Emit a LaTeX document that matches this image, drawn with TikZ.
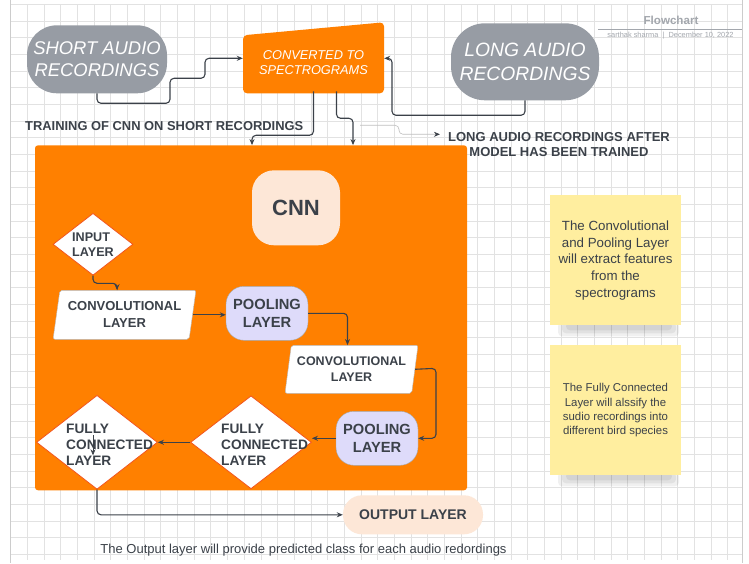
\documentclass[tikz,border=0pt]{standalone}
\usepackage{fontspec}
\setmainfont{Liberation Sans}
\usetikzlibrary{shapes.geometric,arrows.meta}
\definecolor{ink}{HTML}{3B4149}
\definecolor{lucorange}{HTML}{FF8000}
\definecolor{pillgray}{HTML}{979CA4}
\definecolor{peach}{HTML}{FDE7D7}
\definecolor{lavender}{HTML}{DEDBFA}
\definecolor{sticky}{HTML}{FFEE9F}
\definecolor{gridgray}{HTML}{E2E2E2}
\definecolor{titlegray}{HTML}{A3A7AD}
\definecolor{diamondred}{HTML}{F2541B}
\begin{document}
\begin{tikzpicture}[x=1pt, y=-1pt,
  every node/.style={text=ink, inner sep=0pt},
  recbox/.style={fill=pillgray, rounded corners=30, minimum width=140, minimum height=68,
    align=center, text=white, font=\itshape\fontsize{18.4}{22}\selectfont},
  lbl/.style={font=\bfseries\fontsize{13}{15}\selectfont},
  convlayer/.style={trapezium, trapezium left angle=77, trapezium right angle=103,
    trapezium stretches=true, draw=gray!55, fill=white, rounded corners=2,
    align=center, font=\bfseries\fontsize{13}{17}\selectfont},
  poolbox/.style={fill=lavender, draw=gray!70, rounded corners=18, minimum width=82,
    minimum height=54, align=center, font=\bfseries\fontsize{14.7}{18}\selectfont},
  layerdiamond/.style={diamond, draw=diamondred, fill=white, line width=0.8},
  note/.style={fill=sticky, minimum width=131, minimum height=130, align=center},
  flow/.style={draw=ink, line width=1.1, rounded corners=4, -{Stealth[length=6,width=5]}},
  thinflow/.style={draw=gray!50, line width=0.6, rounded corners=4,
    -{Stealth[length=6,width=5,color=ink]}}]

% canvas
\fill[white] (0,0) rectangle (749,563);
\foreach \i in {0,...,43}
  \draw[gridgray, line width=0.5] (10.7+16.67*\i,4) -- (10.7+16.67*\i,560);
\foreach \j in {0,...,33}
  \draw[gridgray, line width=0.5] (10,4+16.67*\j) -- (742,4+16.67*\j);
\draw[gray!40, line width=0.6] (10,0) -- (10,563);
\draw[gray!40, line width=0.6] (742,0) -- (742,563);

% header
\node[font=\bfseries\fontsize{11.6}{13}\selectfont, text=titlegray] (title) at (671,20) {Flowchart};
\draw[titlegray, line width=0.6] (598,29) -- (742,29);
\node[font=\fontsize{7.4}{9}\selectfont, text=titlegray] (author) at (670.5,35) {sarthak sharma \ | \ December 10, 2022};

% inputs
\node[recbox] (short) at (97,59) {SHORT AUDIO\\RECORDINGS};
\node[recbox, minimum width=148, minimum height=77, rounded corners=34,
  font=\itshape\fontsize{19.3}{24}\selectfont] (long) at (525,61.5) {LONG AUDIO\\RECORDINGS};
\fill[lucorange, rounded corners=4] (243,35) -- (384,22) -- (384,93) -- (243,93) -- cycle;
\node[text=white, font=\itshape\fontsize{12.8}{15}\selectfont, align=center,
  minimum width=141, minimum height=58] (conv) at (313.5,62) {CONVERTED TO\\SPECTROGRAMS};

\node[lbl, anchor=west, font=\bfseries\fontsize{12.9}{15}\selectfont] (traincap) at (25,126) {TRAINING OF CNN ON SHORT RECORDINGS};
\node[lbl, align=center] (aftercap) at (559,144) {LONG AUDIO RECORDINGS AFTER\\MODEL HAS BEEN TRAINED};

% model
\node[fill=lucorange, rounded corners=3, minimum width=432, minimum height=345] (model) at (251,317.5) {};
\node[fill=peach, rounded corners=22, minimum width=88, minimum height=75,
  font=\bfseries\fontsize{22}{24}\selectfont] (cnn) at (296,207.5) {CNN};

\node[layerdiamond, minimum width=80, minimum height=62] (input) at (93,244) {};
\node[lbl, align=left, font=\bfseries\fontsize{12.6}{15}\selectfont] (inputtxt) at (input.center) {INPUT\\LAYER};
\node[convlayer, minimum width=143, minimum height=49] (conv1) at (124.5,314.5) {CONVOLUTIONAL\\LAYER};
\node[poolbox] (pool1) at (267,313) {POOLING\\LAYER};
\node[convlayer, minimum width=133, minimum height=48,
  font=\bfseries\fontsize{12.5}{16}\selectfont] (conv2) at (351.5,369) {CONVOLUTIONAL\\LAYER};
\node[poolbox] (pool2) at (377,438) {POOLING\\LAYER};
\node[layerdiamond, minimum width=121, minimum height=93] (fc2) at (251,442) {};
\node[lbl, align=left, anchor=west, font=\bfseries\fontsize{13.7}{16}\selectfont] (fc2txt) at ([xshift=-30,yshift=-2]fc2.center) {FULLY\\CONNECTED\\LAYER};
\node[layerdiamond, minimum width=121, minimum height=94] (fc1) at (97,442) {};
\node[lbl, align=left, anchor=west, font=\bfseries\fontsize{13.7}{16}\selectfont] (fc1txt) at ([xshift=-31,yshift=-2]fc1.center) {FULLY\\CONNECTED\\LAYER};

\node[fill=peach, rounded corners=19, minimum width=140, minimum height=39,
  font=\bfseries\fontsize{14}{16}\selectfont] (output) at (413,514.5) {OUTPUT LAYER};
\node[font=\fontsize{13}{15}\selectfont] (outcap) at (303.5,550) {The Output layer will provide predicted class for each audio redordings};

% notes
\fill[black, opacity=0.06, rounded corners=4] (558,322) rectangle (679,336);
\fill[black, opacity=0.06, rounded corners=4] (562,322) rectangle (676,333);
\fill[black, opacity=0.06, rounded corners=4] (566,322) rectangle (672,330);
\fill[black, opacity=0.06, rounded corners=4] (558,472) rectangle (679,486);
\fill[black, opacity=0.06, rounded corners=4] (562,472) rectangle (676,483);
\fill[black, opacity=0.06, rounded corners=4] (566,472) rectangle (672,480);
\node[note, font=\fontsize{13.3}{16.7}\selectfont] (note1) at (615.5,260) {The Convolutional\\and Pooling Layer\\will extract features\\from the\\spectrograms};
\node[note, font=\fontsize{11.4}{14.3}\selectfont] (note2) at (615.5,410) {The Fully Connected\\Layer will alssify the\\sudio recordings into\\different bird species};

% connectors
\draw[flow] (short.south) |- (170,103) |- (205,78) |- (conv.west |- 0,58);
\draw[flow] (long.south) |- (392,115) |- (conv.east |- 0,58);
\draw[flow] (conv.south) |- (252,135) -- (model.north -| 252,0);
\draw[flow] ([xshift=23]conv.south) |- (353,118) -- (model.north -| 353,0);
\coordinate (thinstart) at (360,125);
\draw[thinflow] (thinstart) -| (399,134) -- ([xshift=-8]aftercap.west |- 0,134);

\draw[flow] (input.south) |- (117,283) -- (conv1.north -| 117,0);
\draw[flow] (conv1.east) -- (pool1.west |- conv1.east);
\draw[flow] (pool1.east) -| ([xshift=-4]conv2.north);
\draw[flow] (conv2.east) -- (436,368) |- (pool2.east);
\draw[flow] (pool2.west) -- (fc2.east |- pool2.west);
\draw[flow] (fc2.west) -- (fc1.east);
\draw[flow] (fc1.south) |- (output.west);
\coordinate (straytop) at (93,435);
\draw[flow, line width=0.6] (straytop) -- ++(0,20);
\end{tikzpicture}
\end{document}
